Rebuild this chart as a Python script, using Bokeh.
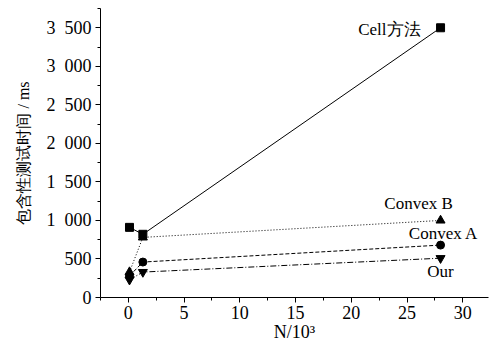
from bokeh.plotting import figure
from bokeh.models import Range1d, FixedTicker
from bokeh.core.properties import value
from bokeh.embed import file_html
from bokeh.resources import INLINE

# ---- data ----
n_k = [0.1, 1.3, 28.0]
cell = [910, 820, 3500]
convex_b = [330, 780, 1000]
convex_a = [280, 460, 680]
our = [230, 330, 510]
series_names = ["Cell方法", "Convex B", "Convex A", "Our"]
x_ticks = [0, 5, 10, 15, 20, 25, 30]
x_minor = [-2.5, 2.5, 7.5, 12.5, 17.5, 22.5, 27.5, 32.5]
y_ticks = [0, 500, 1000, 1500, 2000, 2500, 3000, 3500]
y_minor = [250, 750, 1250, 1750, 2250, 2750, 3250, 3750]
y_tick_labels = ["0", "500", "1\u2002000", "1\u2002500", "2\u2002000", "2\u2002500", "3\u2002000", "3\u2002500"]
x_title = "N/10³"
y_title = "包含性测试时间 / ms"

SERIF = "Liberation Serif"

p = figure(width=491, height=349, output_backend="svg", toolbar_location=None,
           x_range=Range1d(-2.5, 32.3), y_range=Range1d(0, 3750),
           min_border_left=100, min_border_right=3, min_border_top=8, min_border_bottom=52)
p.outline_line_color = None
p.grid.visible = False
p.background_fill_color = "white"
p.border_fill_color = "white"

for ax in (p.xaxis[0], p.yaxis[0]):
    ax.axis_line_color = "black"
    ax.major_tick_line_color = "black"
    ax.minor_tick_line_color = "black"
    ax.major_tick_in = 0
    ax.major_tick_out = 5
    ax.minor_tick_in = 0
    ax.minor_tick_out = 3
    ax.major_label_text_font = SERIF
    ax.major_label_text_font_size = "18px"
    ax.major_label_text_color = "black"
    ax.axis_label_text_font = SERIF
    ax.axis_label_text_font_style = "normal"
    ax.axis_label_text_color = "black"

p.xaxis.ticker = FixedTicker(ticks=x_ticks, minor_ticks=x_minor)
p.yaxis.ticker = FixedTicker(ticks=y_ticks, minor_ticks=y_minor)
p.yaxis.major_label_overrides = {t: l for t, l in zip(y_ticks, y_tick_labels)}
p.xaxis.major_label_standoff = 3
p.yaxis.major_label_standoff = 4

p.yaxis.axis_label = y_title
p.yaxis.axis_label_text_font_size = "16px"
p.yaxis.axis_label_standoff = 12

p.xaxis.axis_label = x_title
p.xaxis.axis_label_text_font_size = "18px"
p.xaxis.axis_label_standoff = 0

# series lines
p.line(n_k, cell, line_color="black", line_width=1)
p.line(n_k, convex_b, line_color="black", line_width=1, line_dash="1 2")
p.line(n_k, convex_a, line_color="black", line_width=1, line_dash="4 2")
p.line(n_k, our, line_color="black", line_width=1, line_dash="6 2 1 2")

# markers
p.scatter(n_k, cell, marker="square", size=8, color="black")
p.scatter(n_k, convex_b, marker="triangle", size=9, color="black")
p.scatter(n_k, convex_a, marker="circle", size=8, color="black")
p.scatter(n_k, our, marker="inverted_triangle", size=9, color="black")

# series labels next to last points
label_specs = [
    (cell, "right", -20, 2),
    (convex_b, "center", -22, -17),
    (convex_a, "center", 3, -12),
    (our, "center", 0, 13),
]
for name, (ser, align, dx, dy) in zip(series_names, label_specs):
    p.text(x=[n_k[-1]], y=[ser[-1]], text=[name], text_align=align,
           text_baseline="middle", x_offset=dx, y_offset=dy,
           text_font=value(SERIF), text_font_size="17px", text_color="black")

open("out.html", "w").write(file_html(p, INLINE))
